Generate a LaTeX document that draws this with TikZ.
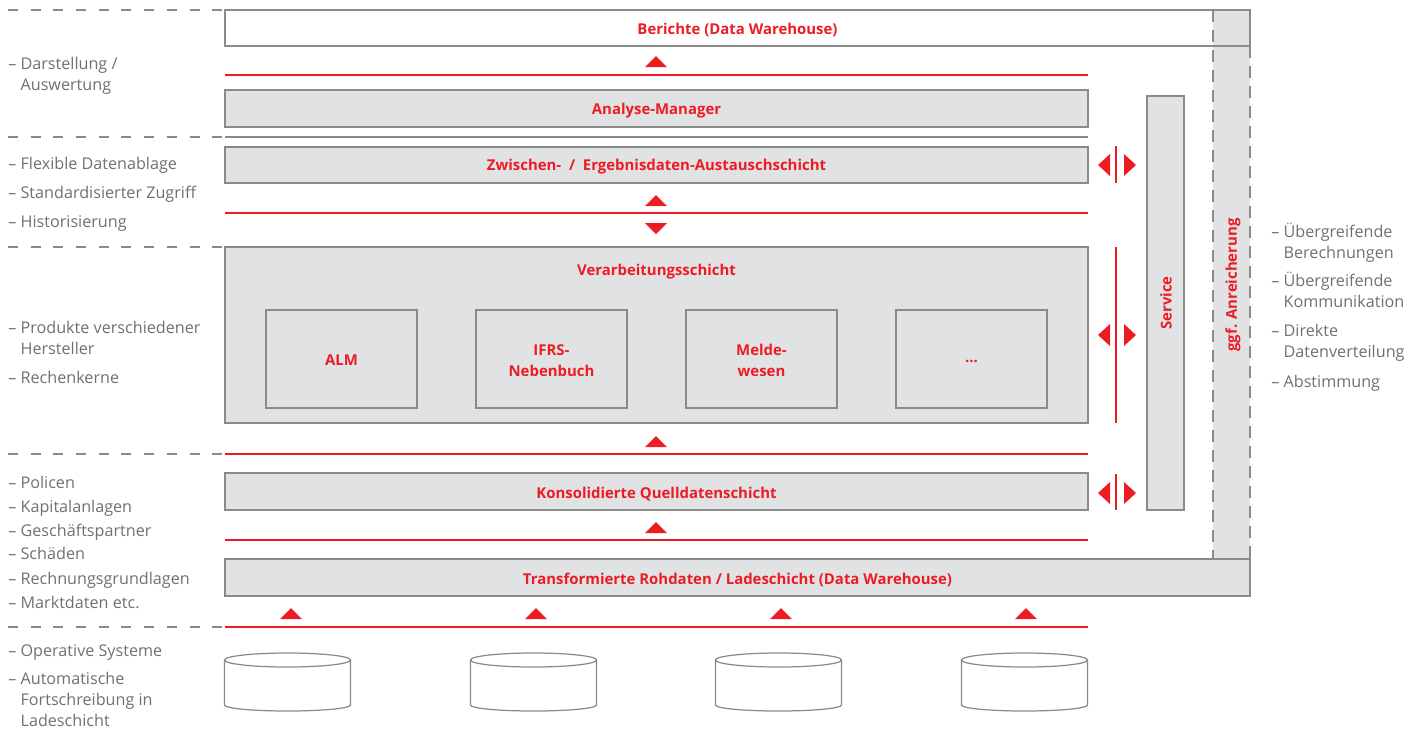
\documentclass[tikz,border=0pt]{standalone}
\usepackage{fontspec}
\setmainfont{Open Sans}
\usepackage{xcolor}
\definecolor{layerred}{RGB}{237,28,36}
\definecolor{notegray}{RGB}{112,112,112}
\definecolor{edgegray}{RGB}{138,138,138}
\definecolor{layerfill}{RGB}{225,226,228}

\begin{document}
\begin{tikzpicture}
[
x=0.02cm, y=-0.02cm,
layerbox/.style={draw=edgegray, fill=layerfill, line width=0.7pt},
ttl/.style={text=layerred, font=\fontsize{8.5}{11.9}\selectfont\bfseries, inner sep=0pt, align=center},
note/.style={text=notegray, font=\fontsize{9.2}{11.9}\selectfont, anchor=base west, inner sep=0pt, align=left},
sepline/.style={draw=edgegray, line width=0.7pt, dash pattern=on 0.2cm off 0.254cm},
colline/.style={draw=edgegray, line width=0.7pt, dash pattern=on 0.24cm off 0.16cm},
redline/.style={draw=layerred, line width=0.6pt},
redmark/.style={fill=layerred},
]
\useasboundingbox (0,0) rectangle (1424,728);

% dashed separators on the left
\draw[sepline] (8,10) -- (225,10);
\draw[sepline] (8,137) -- (225,137);
\draw[sepline] (8,247) -- (225,247);
\draw[sepline] (8,454) -- (225,454);
\draw[sepline] (8,627) -- (225,627);

% Berichte + ggf. Anreicherung column
\fill[white] (225,10) rectangle (1250,46);
\fill[layerfill] (1213,10) rectangle (1250,559);
\draw[edgegray, line width=0.7pt] (225,10) rectangle (1250,46);
\draw[colline] (1213,10) -- (1213,559);
\draw[colline] (1250,46) -- (1250,559);
\node at (737.5,30) [ttl] (berichte) {Berichte (Data Warehouse)};
\node at (1233,285) [ttl, rotate=90] (anreicherung) {ggf. Anreicherung};

% layers
\draw[layerbox] (225,90) rectangle (1088,127);
\node at (656.5,111) [ttl] (analyse) {Analyse-Manager};
\draw[edgegray, line width=0.7pt] (225,137) -- (1088,137);
\draw[layerbox] (225,147) rectangle (1088,183);
\node at (656.5,167) [ttl] (zwischen) {Zwischen-~~/~~Ergebnisdaten-Austauschschicht};
\draw[layerbox] (225,247) rectangle (1088,423);
\node at (656.5,272) [ttl] (verarbeitung) {Verarbeitungsschicht};
\draw[layerbox] (266,310) rectangle (417,408);
\node at (341.5,360) [ttl] (alm) {ALM};
\draw[layerbox] (476,310) rectangle (627,408);
\node at (551.5,361) [ttl] (ifrs) {IFRS-\\Nebenbuch};
\draw[layerbox] (686,310) rectangle (837,408);
\node at (761.5,360) [ttl] (melde) {Melde-\\wesen};
\draw[layerbox] (896,310) rectangle (1047,408);
\node at (971.5,361) [ttl] (dots) {...};
\draw[layerbox] (225,473) rectangle (1088,510);
\node at (656.5,494) [ttl] (konsolidiert) {Konsolidierte Quelldatenschicht};
\draw[layerbox] (225,559) rectangle (1250,596);
\node at (737.5,580) [ttl] (rohdaten) {Transformierte Rohdaten / Ladeschicht (Data Warehouse)};

% service
\draw[layerbox] (1147,96) rectangle (1184,510);
\node at (1166,303) [ttl, rotate=90] (service) {Service};

% red lines and marks
\draw[redline] (225,75) -- (1088,75);
\fill[redmark] (645,67) -- (667,67) -- (656,56) -- cycle;
\draw[redline] (225,213) -- (1088,213);
\fill[redmark] (645,206) -- (667,206) -- (656,195) -- cycle;
\fill[redmark] (645,223) -- (667,223) -- (656,234) -- cycle;
\draw[redline] (225,454) -- (1088,454);
\fill[redmark] (645,447) -- (667,447) -- (656,436) -- cycle;
\draw[redline] (225,540) -- (1088,540);
\fill[redmark] (645,533) -- (667,533) -- (656,522) -- cycle;
\draw[redline] (225,627) -- (1088,627);
\fill[redmark] (280,619) -- (302,619) -- (291,608) -- cycle;
\fill[redmark] (525,619) -- (547,619) -- (536,608) -- cycle;
\fill[redmark] (770,619) -- (792,619) -- (781,608) -- cycle;
\fill[redmark] (1015,619) -- (1037,619) -- (1026,608) -- cycle;

% exchange with service
\draw[redline] (1116,146) -- (1116,183);
\fill[redmark] (1110,154) -- (1110,176) -- (1098,165) -- cycle;
\fill[redmark] (1124,154) -- (1124,176) -- (1136,165) -- cycle;
\draw[redline] (1116,247) -- (1116,423);
\fill[redmark] (1110,324) -- (1110,346) -- (1098,335) -- cycle;
\fill[redmark] (1124,324) -- (1124,346) -- (1136,335) -- cycle;
\draw[redline] (1116,474) -- (1116,510);
\fill[redmark] (1110,482) -- (1110,504) -- (1098,493) -- cycle;
\fill[redmark] (1124,482) -- (1124,504) -- (1136,493) -- cycle;

% source systems
\draw[edgegray, line width=0.7pt] (224.5,660) -- (224.5,705) arc[start angle=180, end angle=0, x radius=63, y radius=6] -- (350.5,660);
\draw[edgegray, line width=0.7pt] (287.5,660) ellipse [x radius=63, y radius=7];
\draw[edgegray, line width=0.7pt] (470.5,660) -- (470.5,705) arc[start angle=180, end angle=0, x radius=63, y radius=6] -- (596.5,660);
\draw[edgegray, line width=0.7pt] (533.5,660) ellipse [x radius=63, y radius=7];
\draw[edgegray, line width=0.7pt] (715.5,660) -- (715.5,705) arc[start angle=180, end angle=0, x radius=63, y radius=6] -- (841.5,660);
\draw[edgegray, line width=0.7pt] (778.5,660) ellipse [x radius=63, y radius=7];
\draw[edgegray, line width=0.7pt] (961.5,660) -- (961.5,705) arc[start angle=180, end angle=0, x radius=63, y radius=6] -- (1087.5,660);
\draw[edgegray, line width=0.7pt] (1024.5,660) ellipse [x radius=63, y radius=7];

% notes left (base = last line)
\node at (8,90) [note] (darstellung) {– Darstellung /\\\hphantom{– }Auswertung};
\node at (8,169) [note] (flexibel) {– Flexible Datenablage};
\node at (8,198) [note] (zugriff) {– Standardisierter Zugriff};
\node at (8,227) [note] (historie) {– Historisierung};
\node at (8,354) [note] (produkte) {– Produkte verschiedener\\\hphantom{– }Hersteller};
\node at (8,383) [note] (rechenkerne) {– Rechenkerne};
\node at (8,488) [note] (policen) {– Policen};
\node at (8,512) [note] (kapital) {– Kapitalanlagen};
\node at (8,536) [note] (partner) {– Geschäftspartner};
\node at (8,559) [note] (schaeden) {– Schäden};
\node at (8,584) [note] (grundlagen) {– Rechnungsgrundlagen};
\node at (8,608) [note] (markt) {– Marktdaten etc.};
\node at (8,656) [note] (operativ) {– Operative Systeme};
\node at (8,726) [note] (fortschreibung) {– Automatische\\\hphantom{– }Fortschreibung in\\\hphantom{– }Ladeschicht};

% notes right
\node at (1271,258) [note] (berechnungen) {– Übergreifende\\\hphantom{– }Berechnungen};
\node at (1271,307) [note] (kommunikation) {– Übergreifende\\\hphantom{– }Kommunikation};
\node at (1271,357) [note] (verteilung) {– Direkte\\\hphantom{– }Datenverteilung};
\node at (1271,387) [note] (abstimmung) {– Abstimmung};
\end{tikzpicture}
\end{document}
